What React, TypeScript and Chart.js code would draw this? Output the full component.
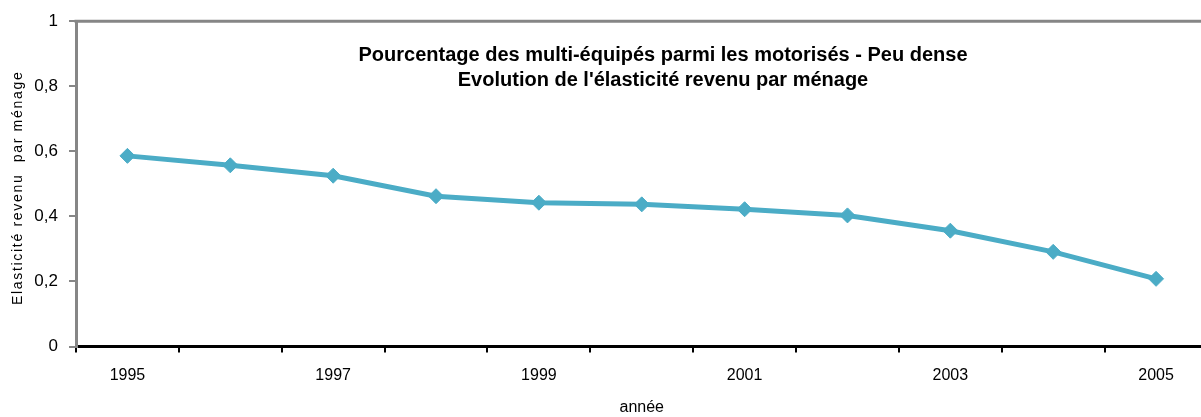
import React, { useEffect, useRef } from 'react';
import { Chart, registerables } from 'chart.js';

Chart.register(...registerables);

const years = ['1995', '1996', '1997', '1998', '1999', '2000', '2001', '2002', '2003', '2004', '2005'];
const elasticity = [0.586, 0.557, 0.525, 0.462, 0.442, 0.437, 0.422, 0.403, 0.356, 0.291, 0.208];
const yTickValues = [0, 0.2, 0.4, 0.6, 0.8, 1];
const titleLines = [
  'Pourcentage des multi-équipés parmi les motorisés - Peu dense',
  "Evolution de l'élasticité revenu par ménage",
];
const yTitle = 'Elasticité revenu  par ménage';
const xTitle = 'année';

const FONT = '"Liberation Sans", Arial, sans-serif';
const LINE_COLOR = '#4BACC6';
const AXIS_GREY = '#868686';

const decorPlugin = {
  id: 'decor',
  beforeDatasetsDraw(chart: any) {
    const { ctx, chartArea } = chart;
    ctx.save();
    ctx.strokeStyle = AXIS_GREY;
    ctx.lineWidth = 3;
    ctx.beginPath();
    ctx.moveTo(chartArea.left - 1.5, chartArea.top);
    ctx.lineTo(chartArea.right, chartArea.top);
    ctx.stroke();
    ctx.restore();
  },
  afterDraw(chart: any) {
    const { ctx, chartArea } = chart;
    ctx.save();
    ctx.fillStyle = '#000';
    ctx.font = `bold 20px ${FONT}`;
    ctx.textAlign = 'center';
    ctx.textBaseline = 'alphabetic';
    const cx = chartArea.left + 587;
    ctx.fillText(titleLines[0], cx, chartArea.top + 40);
    ctx.fillText(titleLines[1], cx, chartArea.top + 65);

    ctx.font = `14px ${FONT}`;
    (ctx as any).letterSpacing = '1.7px';
    ctx.translate(18, (chartArea.top + chartArea.bottom) / 2 + 4);
    ctx.rotate(-Math.PI / 2);
    ctx.textBaseline = 'middle';
    ctx.fillText(yTitle, 0, 0);
    ctx.restore();
  },
};

export default function App() {
  const canvasRef = useRef<HTMLCanvasElement | null>(null);

  useEffect(() => {
    if (!canvasRef.current) return;
    const chart = new Chart(canvasRef.current, {
      type: 'line',
      data: {
        labels: years,
        datasets: [
          {
            label: 'Elasticité revenu par ménage',
            data: elasticity,
            borderColor: LINE_COLOR,
            backgroundColor: LINE_COLOR,
            borderWidth: 5,
            pointStyle: 'rectRot',
            pointRadius: 7.5,
            pointBackgroundColor: LINE_COLOR,
            pointBorderColor: LINE_COLOR,
            pointBorderWidth: 1,
            tension: 0,
            fill: false,
          },
        ],
      },
      options: {
        responsive: false,
        animation: false,
        devicePixelRatio: 1,
        layout: { padding: { left: 0, top: 21, right: 5, bottom: 0 } },
        plugins: {
          legend: { display: false },
          title: { display: false },
          tooltip: { enabled: false },
        },
        scales: {
          x: {
            type: 'category',
            offset: true,
            grid: {
              offset: true,
              drawOnChartArea: false,
              drawTicks: true,
              tickLength: 6,
              color: '#000',
              lineWidth: 2,
            },
            border: { color: '#000', width: 3 },
            ticks: {
              autoSkip: false,
              maxRotation: 0,
              minRotation: 0,
              padding: 13,
              color: '#000',
              font: { family: FONT, size: 16 },
              callback: (_v: any, i: number) => (i % 2 === 0 ? years[i] : ''),
            },
            title: {
              display: true,
              text: xTitle,
              color: '#000',
              font: { family: FONT, size: 16 },
              padding: { top: 0, bottom: 0 },
            },
            afterFit: (s: any) => {
              s.height = 70.5;
            },
          },
          y: {
            min: 0,
            max: 1,
            afterBuildTicks: (s: any) => {
              s.ticks = yTickValues.map((v) => ({ value: v }));
            },
            grid: {
              drawOnChartArea: false,
              drawTicks: true,
              tickLength: 7,
              color: AXIS_GREY,
              lineWidth: 2,
            },
            border: { color: AXIS_GREY, width: 3 },
            ticks: {
              padding: 11,
              color: '#000',
              font: { family: FONT, size: 17 },
              callback: (v: any) => {
                const n = Number(v);
                return Number.isInteger(n) ? String(n) : n.toFixed(1).replace('.', ',');
              },
            },
            title: { display: false },
            afterFit: (s: any) => {
              s.width = 76;
            },
          },
        },
      },
      plugins: [decorPlugin],
    });
    return () => chart.destroy();
  }, []);

  return (
    <div
      style={{
        position: 'fixed',
        left: 0,
        top: 0,
        width: 1201,
        height: 417,
        overflow: 'hidden',
        background: '#fff',
      }}
    >
      <canvas ref={canvasRef} width={1216} height={417} style={{ display: 'block' }} />
    </div>
  );
}
